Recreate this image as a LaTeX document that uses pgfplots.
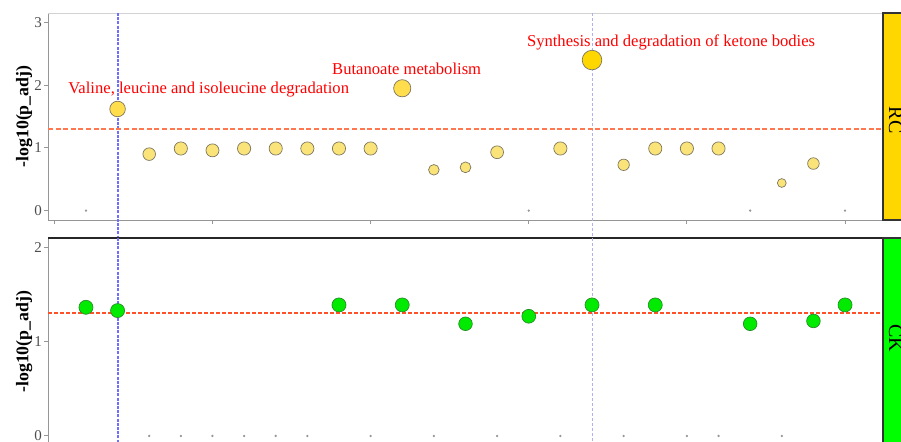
\documentclass[border=0pt]{standalone}
\usepackage{pgfplots}
\pgfplotsset{compat=1.18}
\usepackage{fontspec}
\setmainfont{Liberation Serif}
\definecolor{goldA}{RGB}{255,215,0}
\definecolor{goldB}{RGB}{255,221,77}
\definecolor{goldC}{RGB}{250,228,122}
\definecolor{ptedge}{RGB}{125,118,95}
\definecolor{grn}{RGB}{0,235,0}
\definecolor{grnedge}{RGB}{40,140,40}
\definecolor{axgray}{RGB}{150,150,150}
\definecolor{ticklab}{RGB}{77,77,77}
\definecolor{stripY}{RGB}{255,215,0}
\definecolor{stripG}{RGB}{0,255,0}
\definecolor{blueLine}{RGB}{110,110,255}
\definecolor{lavLine}{RGB}{175,175,245}
\definecolor{redLineA}{RGB}{255,120,80}
\definecolor{redLineB}{RGB}{255,80,40}
\definecolor{zerodot}{RGB}{150,150,150}

\pgfplotstableread{
x y r
17 2.40 4.9
}\sigA
\pgfplotstableread{
x y r
2 1.62 3.9
11 1.95 4.3
}\sigB
\pgfplotstableread{
x y r
3 0.90 3.15
4 0.99 3.3
5 0.96 3.25
6 0.99 3.3
7 0.99 3.3
8 0.99 3.3
9 0.99 3.3
10 0.99 3.3
12 0.65 2.65
13 0.69 2.7
14 0.93 3.2
16 0.99 3.3
18 0.73 2.85
19 0.99 3.3
20 0.99 3.3
21 0.99 3.3
23 0.44 2.2
24 0.75 2.9
}\nsRC
\pgfplotstableread{
x y
1 0
15 0
22 0
25 0
}\zeroRC
\pgfplotstableread{
x y r
1 1.365 3.5
2 1.33 3.5
9 1.39 3.5
11 1.39 3.5
13 1.19 3.4
15 1.27 3.45
17 1.39 3.5
19 1.39 3.5
22 1.19 3.4
24 1.22 3.4
25 1.39 3.5
}\ptCK
\pgfplotstableread{
x y
3 0
4 0
5 0
6 0
7 0
8 0
10 0
12 0
14 0
16 0
18 0
20 0
21 0
23 0
}\zeroCK

\pgfplotsset{
 panel/.style={
   scale only axis, width=417.5pt,
   xmin=-0.2, xmax=26.2,
   axis x line*=bottom, axis y line*=left,
   axis line style={axgray, line width=0.5pt},
   tick align=outside, major tick length=2pt,
   tick style={axgray, line width=0.5pt},
   xtick={0,5,...,25}, xticklabels={},
   tick label style={font=\fontsize{7.5}{8}\selectfont, text=ticklab},
   yticklabel style={xshift=2.5pt},
   /pgf/number format/assume math mode=true,
   ylabel={-log10(p\_adj)},
   ylabel style={font=\bfseries\fontsize{8.9}{9}\selectfont, at={(axis description cs:-0.0285,0.5)}, anchor=center},
   clip=false,
 },
 dot/.style n args={2}{only marks, mark=*, scatter, point meta=explicit,
   scatter/use mapped color={draw=#1, fill=#2},
   visualization depends on={\thisrow{r}\as\rad},
   scatter/@pre marker code/.append style={/tikz/mark size=\rad pt},
   mark options={line width=0.35pt}},
 vline/.style={color=blueLine, solid, line width=1pt, dash pattern=on 1.5pt off 0.6pt, mark=none},
 vlineL/.style={color=lavLine, solid, line width=0.5pt, dash pattern=on 1.5pt off 1pt, mark=none},
 hlA/.style={color=redLineA, solid, line width=0.9pt, dash pattern=on 2.5pt off 1.3pt, mark=none},
 hlB/.style={color=redLineB, solid, line width=1pt, dash pattern=on 2pt off 1pt, mark=none},
}

\begin{document}
\begin{tikzpicture}
\useasboundingbox (0,0) rectangle (450.5pt,220.5pt);
\clip (0,0) rectangle (450.5pt,220.5pt);

% ---------- top panel (RC) ----------
\begin{axis}[panel, at={(24pt,110.5pt)}, anchor=south west, height=103.5pt,
  ymin=-0.15, ymax=3.15, ytick={0,1,2,3}]
\addplot[color=gray!35, line width=0.5pt] coordinates {(-0.2,3.15) (26.2,3.15)};
\addplot[vlineL] coordinates {(17,3.15) (17,-0.44)};
\addplot[vline] coordinates {(2,3.15) (2,-0.44)};
\addplot[hlA] coordinates {(-0.2,1.301) (26.2,1.301)};
\addplot[only marks, mark=*, mark size=0.35pt, zerodot] table[x=x,y=y] {\zeroRC};
\addplot[dot={ptedge}{goldC}] table[x=x,y=y,meta=y] {\nsRC};
\addplot[dot={ptedge}{goldB}] table[x=x,y=y,meta=y] {\sigB};
\addplot[dot={ptedge}{goldA}] table[x=x,y=y,meta=y] {\sigA};
\node[text=red, font=\fontsize{8.3}{9}\selectfont] at (axis cs:4.88,1.93) {Valine, leucine and isoleucine degradation};
\node[text=red, font=\fontsize{8.3}{9}\selectfont] at (axis cs:11.14,2.26) {Butanoate metabolism};
\node[text=red, font=\fontsize{8.3}{9}\selectfont] at (axis cs:19.5,2.68) {Synthesis and degradation of ketone bodies};
\end{axis}

% ---------- bottom panel (CK) ----------
\begin{axis}[panel, at={(24pt,-2.2pt)}, anchor=south west, height=103.7pt,
  ymin=-0.1, ymax=2.1, ytick={0,1,2}]
\addplot[color=black!85, line width=0.6pt] coordinates {(-0.2,2.1) (26.2,2.1)};
\addplot[vlineL] coordinates {(17,2.1) (17,-0.1)};
\addplot[vline] coordinates {(2,2.1) (2,-0.1)};
\addplot[hlB] coordinates {(-0.2,1.301) (26.2,1.301)};
\addplot[only marks, mark=*, mark size=0.35pt, zerodot] table[x=x,y=y] {\zeroCK};
\addplot[dot={grnedge}{grn}] table[x=x,y=y,meta=y] {\ptCK};
\end{axis}

% ---------- strips ----------
\filldraw[fill=stripY, draw=black!80, line width=0.6pt] (441.5pt,110.5pt) rectangle (470pt,214pt);
\filldraw[fill=stripG, draw=black!80, line width=0.6pt] (441.5pt,-10pt) rectangle (470pt,101.5pt);
\node[rotate=-90, anchor=base, font=\fontsize{10}{12}\selectfont] at (444.5pt,160.5pt) {RC};
\node[rotate=-90, anchor=base, font=\fontsize{10}{12}\selectfont] at (444.5pt,51.5pt) {CK};
\end{tikzpicture}
\end{document}
